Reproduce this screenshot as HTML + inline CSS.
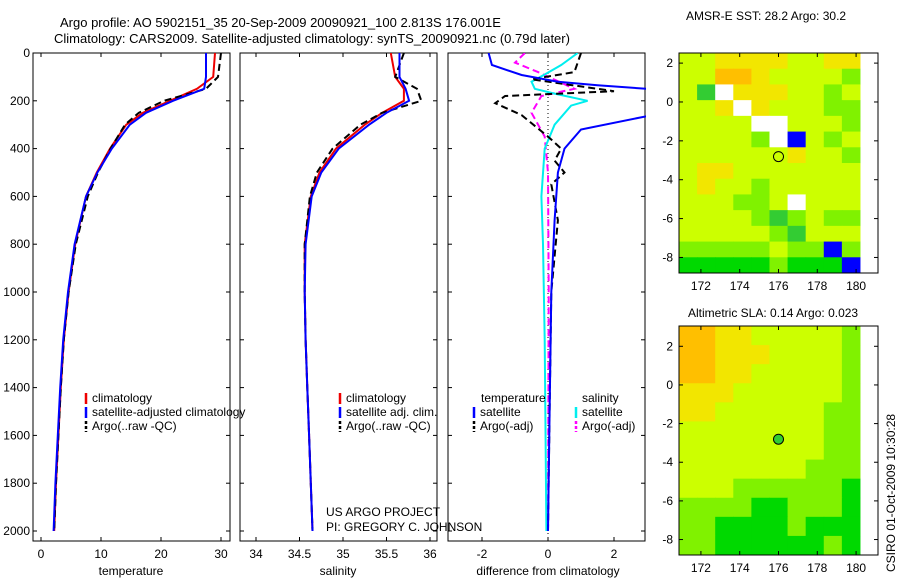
<!DOCTYPE html>
<html><head><meta charset="utf-8"><style>
body{margin:0;background:#fff}
svg{font-family:"Liberation Sans",sans-serif;font-size:12px}
</style></head><body>
<svg id="c" width="900" height="580" viewBox="0 0 900 580">
<text x="60" y="27" font-size="13">Argo profile: AO 5902151_35 20-Sep-2009 20090921_100 2.813S 176.001E</text>
<text x="54" y="43" font-size="13">Climatology: CARS2009. Satellite-adjusted climatology: synTS_20090921.nc (0.79d later)</text>
<text x="686" y="20">AMSR-E SST: 28.2 Argo: 30.2</text>
<text x="688" y="317">Altimetric SLA: 0.14 Argo: 0.023</text>
<text transform="translate(895,572) rotate(-90)">CSIRO 01-Oct-2009 10:30:28</text>
<text x="326" y="516">US ARGO PROJECT</text>
<text x="326" y="531">PI: GREGORY C. JOHNSON</text>
<g id="g"></g>
</svg>
<script>
// ---- data ----
const tDepth=[0,100,150,200,250,300,400,500,600,800,1000,1200,1400,1600,1800,2000];
const tClim=[29,28.7,26,21.5,17,14.2,11.5,9.3,7.5,5.7,4.6,3.8,3.3,2.9,2.5,2.2];
const tSat=[27.5,27.5,27.2,22,17.5,14.8,11.8,9.4,7.5,5.6,4.5,3.7,3.2,2.8,2.4,2.1];
const tArgo=[30,29.5,27.5,20.5,16.3,14,11.6,9.5,7.8,5.8,4.6,3.8,3.3,2.9,2.5,2.2];
const sDepth=[0,100,150,200,250,300,400,500,600,800,1000,1200,1400,1600,1800,2000];
const sClim=[35.55,35.6,35.7,35.7,35.45,35.25,34.92,34.73,34.63,34.56,34.56,34.57,34.59,34.61,34.63,34.65];
const sSat=[35.65,35.65,35.72,35.76,35.5,35.3,34.95,34.75,34.64,34.57,34.56,34.57,34.59,34.61,34.63,34.65];
const sArgo=[35.7,35.6,35.85,35.9,35.45,35.2,34.88,34.7,34.62,34.56,34.56,34.57,34.59,34.61,34.63,34.65];
const dDepthT=[0,50,92,120,135,155,250,320,400,500,700,1000,1500,2000];
const dTsat=[-1.8,-1.7,-0.8,0.3,1.5,3.5,3.5,1.0,0.5,0.3,0.2,0.1,0.05,0];
const dDepthA=[0,80,110,160,180,210,260,350,400,450,500,550,700,1000,1500,2000];
const dTargo=[1.0,0.8,-0.5,2.0,-1.3,-1.6,-0.8,0,0.4,0.2,0.5,0.1,0.3,0.1,0.05,0];
const dDepthS=[0,50,90,120,150,170,200,220,300,400,600,800,1200,2000];
const dSsat=[0.9,0.4,-0.1,-0.5,-0.4,0.2,1.2,0.7,0.2,-0.1,-0.2,-0.15,-0.1,-0.05];
const dDepthM=[0,40,80,150,180,250,350,500,1000,2000];
const dSargo=[-0.7,-1.0,-0.3,0.8,-0.2,-0.5,-0.1,0,0.02,0];
const depthTicks=[0,200,400,600,800,1000,1200,1400,1600,1800,2000];
const tTicks=[0,10,20,30], sTicks=[34,34.5,35,35.5,36], dTicks=[-2,0,2];
const lonTicks=[172,174,176,178,180], latTicks=[2,0,-2,-4,-6,-8];
const sstGrid=[
"6677776677",
"6688766665",
"63z7776656",
"667z766655",
"6666zz6665",
"66665z1656",
"6666667665",
"6776666666",
"6766566666",
"666556z666",
"6666535655",
"6666653666",
"5555565515",
"4444454441"];
const slaGrid=[
"8877666665",
"8877766665",
"8877666665",
"7776666665",
"7766666655",
"6666666655",
"6666666655",
"6666666555",
"6665555554",
"5555445554",
"5544445444",
"5544444454"];
// ---- helpers ----
const NS='http://www.w3.org/2000/svg', G=document.getElementById('g');
function mk(t,a,p){const e=document.createElementNS(NS,t);for(const k in a)e.setAttribute(k,a[k]);(p||G).appendChild(e);return e;}
const yD=d=>53+d*0.239;
function axes(x0,y0,w,h,name){const r=mk('rect',{x:x0,y:y0,width:w,height:h,fill:'none',stroke:'#000'});}
function line(xs,ds,sx,col,dash,name,clip){const p=mk('path',{d:xs.map((v,i)=>(i?'L':'M')+sx(v).toFixed(1)+','+yD(ds[i]).toFixed(1)).join(''),fill:'none',stroke:col,'stroke-width':2,'stroke-dasharray':dash||'','clip-path':clip});}
const defs=mk('defs',{});
[['c1',33],['c2',240],['c3',448]].forEach(([id,x])=>{const cp=mk('clipPath',{id},defs);mk('rect',{x,y:53,width:198,height:488},cp);});
const panels=[[33,'temperature-panel'],[240,'salinity-panel'],[448,'difference-panel']];
panels.forEach(([x,n],k)=>{axes(x,53,197,488,n);
 depthTicks.forEach(d=>{mk('line',{x1:x,x2:x+4,y1:yD(d),y2:yD(d),stroke:'#000'});mk('line',{x1:x+197,x2:x+193,y1:yD(d),y2:yD(d),stroke:'#000'});
  if(k==0){const t=mk('text',{x:x-3,y:yD(d)+4,'text-anchor':'end'});t.textContent=d;}});});
const sxT=v=>41+v*6, sxS=v=>256+(v-34)*87, sxD=v=>548+v*33;
[[tTicks,sxT,'temperature'],[sTicks,sxS,'salinity'],[dTicks,sxD,'difference from climatology']].forEach(([tk,sx,lab],k)=>{
 tk.forEach(v=>{mk('line',{x1:sx(v),x2:sx(v),y1:541,y2:537,stroke:'#000'});mk('line',{x1:sx(v),x2:sx(v),y1:53,y2:57,stroke:'#000'});
  const t=mk('text',{x:sx(v),y:558,'text-anchor':'middle'});t.textContent=v;});
 const t=mk('text',{x:[131,338,548][k],y:575,'text-anchor':'middle'});t.textContent=lab;});
mk('line',{x1:548,x2:548,y1:53,y2:541,stroke:'#000','stroke-dasharray':'1,3'});
line(tClim,tDepth,sxT,'#e00','', 'temp-climatology','url(#c1)');
line(tArgo,tDepth,sxT,'#000','7,4','temp-argo','url(#c1)');
line(tSat,tDepth,sxT,'#00f','', 'temp-satellite','url(#c1)');
line(sClim,sDepth,sxS,'#e00','', 'sal-climatology','url(#c2)');
line(sArgo,sDepth,sxS,'#000','7,4','sal-argo','url(#c2)');
line(sSat,sDepth,sxS,'#00f','', 'sal-satellite','url(#c2)');
line(dSargo,dDepthM,sxD,'#f0f','7,4','diff-sal-argo','url(#c3)');
line(dSsat,dDepthS,sxD,'#0ee','', 'diff-sal-satellite','url(#c3)');
line(dTargo,dDepthA,sxD,'#000','7,4','diff-temp-argo','url(#c3)');
line(dTsat,dDepthT,sxD,'#00f','', 'diff-temp-satellite','url(#c3)');
function leg(x,y,col,dash,txt){mk('line',{x1:x,x2:x,y1:y-9,y2:y+2,stroke:col,'stroke-width':2.5,'stroke-dasharray':dash});const t=mk('text',{x:x+6,y});t.textContent=txt;}
leg(86,402,'#e00','','climatology');leg(86,416,'#00f','','satellite-adjusted climatology');leg(86,430,'#000','3,2','Argo(..raw -QC)');
leg(340,402,'#e00','','climatology');leg(340,416,'#00f','','satellite adj. clim.');leg(340,430,'#000','3,2','Argo(..raw -QC)');
let tt=mk('text',{x:481,y:402});tt.textContent='temperature';tt=mk('text',{x:582,y:402});tt.textContent='salinity';
leg(474,416,'#00f','','satellite');leg(474,430,'#000','3,2','Argo(-adj)');leg(576,416,'#0ee','','satellite');leg(576,430,'#f0f','3,2','Argo(-adj)');
const jet=v=>{const c=[[0,0,0.5],[0,0,1],[0,1,1],[0.2,0.8,0.2],[0,0.85,0],[0.5,0.95,0],[0.8,1,0],[0.95,0.9,0],[1,0.75,0],[1,0.6,0]];const q=c[v];return 'rgb('+q.map(x=>Math.round(x*255)).join(',')+')';};
function map(y0,h,grid,latTop,latBot,name,plat){
 const x0=679,w=199,rows=grid.length,cols=grid[0].length;
 const lonL=170.87,lonR=181.13, sx=l=>x0+(l-lonL)/(lonR-lonL)*w, sy=a=>y0+(latTop-a)/(latTop-latBot)*h;
 const cw=(sx(180.2)-x0)/cols, ch=h/rows;
 grid.forEach((r,i)=>[...r].forEach((c,j)=>{const cell=mk('rect',{x:x0+j*cw,y:y0+i*ch,width:cw+0.5,height:ch+0.5,fill:c=='z'?'#fff':jet(+c)});}));
 axes(x0,y0,w,h,name);
 lonTicks.forEach(l=>{mk('line',{x1:sx(l),x2:sx(l),y1:y0+h,y2:y0+h-4,stroke:'#000'});mk('line',{x1:sx(l),x2:sx(l),y1:y0,y2:y0+4,stroke:'#000'});const t=mk('text',{x:sx(l),y:y0+h+17,'text-anchor':'middle'});t.textContent=l;});
 latTicks.forEach(a=>{mk('line',{x1:x0,x2:x0+4,y1:sy(a),y2:sy(a),stroke:'#000'});mk('line',{x1:x0+w,x2:x0+w-4,y1:sy(a),y2:sy(a),stroke:'#000'});const t=mk('text',{x:x0-6,y:sy(a)+4,'text-anchor':'end'});t.textContent=a;});
 const m=mk('circle',{cx:sx(176.0),cy:sy(-2.81),r:5,fill:plat,stroke:'#000'});
}
map(53,220,sstGrid,2.52,-8.8,'sst-map','none');
map(326,229,slaGrid,3.05,-8.8,'sla-map','#3c3');
</script>
</body></html>
